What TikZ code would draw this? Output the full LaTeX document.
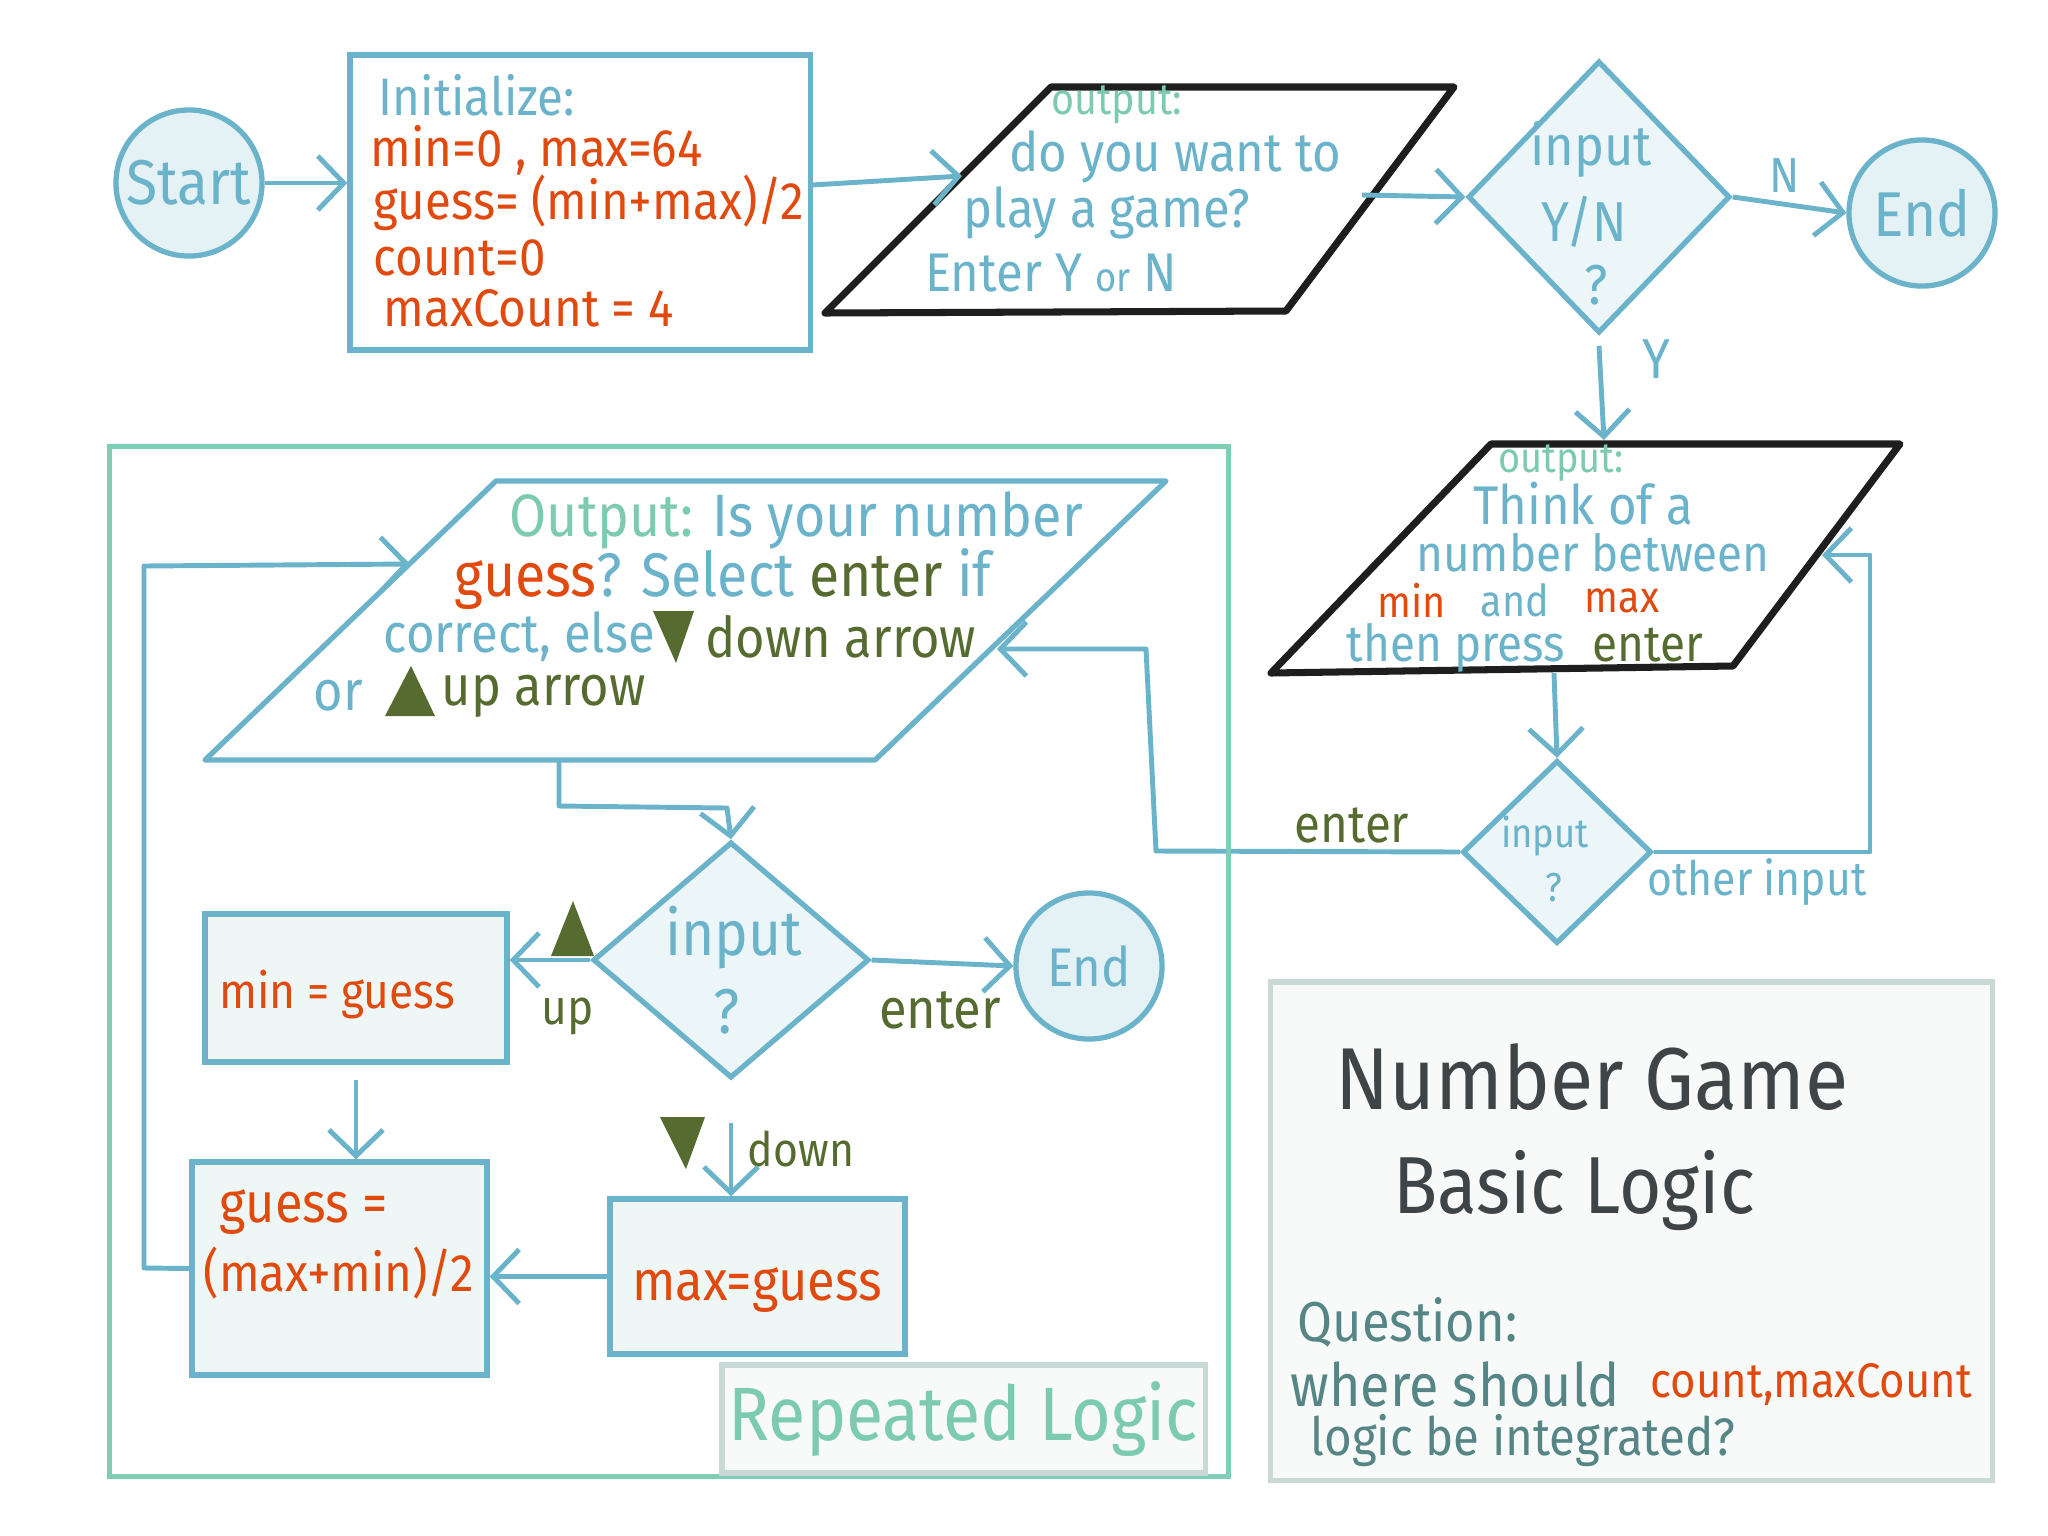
\documentclass[tikz,border=0pt]{standalone}
\usepackage{fontspec}
\setmainfont{Fira Sans}[FakeStretch=0.9]
\usetikzlibrary{arrows.meta,shapes.geometric,calc}
\definecolor{cblue}{HTML}{6AB3CA}
\definecolor{corange}{HTML}{E04A0E}
\definecolor{cmint}{HTML}{7CCBB0}
\definecolor{colive}{HTML}{556B2F}
\definecolor{cblack}{HTML}{1E1E1E}
\definecolor{cframe}{HTML}{7FCDB5}
\definecolor{cgrayb}{HTML}{C9D9D5}
\definecolor{cgrayf}{HTML}{F8FAFA}
\definecolor{cdark}{HTML}{3F4547}
\definecolor{cteal}{HTML}{558585}
\definecolor{ccirc}{HTML}{E4F1F5}
\definecolor{cdia}{HTML}{ECF6F8}
\definecolor{cbox}{HTML}{EEF7F5}
\newcommand\fsz[1]{\fontsize{#1pt}{#1pt}\selectfont}
\tikzset{
  x=0.01cm, y=-0.01cm,
  circ/.style={circle, draw=cblue, fill=ccirc, line width=1.5pt, minimum size=1.46cm, inner sep=0pt, text=cblue},
  dia/.style={diamond, draw=cblue, fill=cdia, line width=1.5pt, inner sep=0pt},
  rect/.style={rectangle, draw=cblue, line width=1.5pt, inner sep=0pt},
  gbox/.style={rectangle, draw=cblue, fill=cbox, line width=1.5pt, inner sep=0pt},
  graybox/.style={rectangle, draw=cgrayb, fill=cgrayf, line width=1.5pt, inner sep=0pt},
  para/.style={draw=cblack, fill=white, line width=2pt, line join=round},
  arr/.style={draw=cblue, line width=1.4pt, line join=round, -{Straight Barb[length=2.6mm,width=5.4mm]}},
  tx/.style={inner sep=0pt},
}
\begin{document}
\begin{tikzpicture}
\useasboundingbox (0,0) rectangle (2048,1536);
\fill[white] (0,0) rectangle (2048,1536);

% ---------- top row ----------
\node[circ, font=\fsz{18}] (start) at (189,183) {Start};
\node[rect, minimum width=4.6cm, minimum height=2.95cm] (init) at (580,202.5) {};
\node[tx, text=cblue, font=\fsz{15}] (tinit) at (477,95) {Initialize:};
\node[tx, anchor=west, text=corange, font=\fsz{15}] (tmin) at (370,150) {min=0 , max=64};
\node[tx, anchor=west, text=corange, font=\fsz{15}] (tguess) at (373,203) {guess= (min+max)/2};
\node[tx, anchor=west, text=corange, font=\fsz{15}] (tcount) at (373,258) {count=0};
\node[tx, anchor=west, text=corange, font=\fsz{15}] (tmaxc) at (383,308) {maxCount = 4};

\coordinate (p1a) at (1051,87);
\coordinate (p1b) at (1454,87);
\coordinate (p1c) at (1286,311);
\coordinate (p1d) at (825,313);
\draw[para] (p1a) -- (p1b) -- (p1c) -- (p1d) -- cycle;
\node[tx, text=cmint, font=\fsz{12.5}] (p1t0) at (1117,105) {output:};
\node[tx, text=cblue, font=\fsz{15.5}] (p1t1) at (1175,157) {do you want to};
\node[tx, text=cblue, font=\fsz{15.5}] (p1t2) at (1107,213) {play a game?};
\node[tx, text=cblue, font=\fsz{15.5}] (p1t3) at (1051,273) {Enter Y {\fsz{11.5}or} N};

\node[dia, minimum width=2.62cm, minimum height=2.72cm] (dia1) at (1599,197) {};
\node[tx, text=cblue, font=\fsz{16}] (d1t1) at (1591,150) {input};
\node[tx, text=cblue, font=\fsz{16}] (d1t2) at (1584,222) {Y/N};
\node[tx, text=cblue, font=\fsz{16}] (d1t3) at (1596,285) {?};

\node[circ, font=\fsz{18}] (end1) at (1922,213) {End};
\node[tx, text=cblue, font=\fsz{14}] (lN) at (1785,176) {N};
\node[tx, text=cblue, font=\fsz{16}] (lY) at (1656,359) {Y};

\coordinate (i1out) at (812,185);
\coordinate (p1in) at (962,176);
\coordinate (p1out) at (1362,195);
\coordinate (p2in) at (1604,440);
\draw[arr] (start.east) -- (start.east -| init.west);
\draw[arr] (i1out) -- (p1in);
\draw[arr] (p1out) -- (dia1.west);
\draw[arr] (dia1.east) -- (end1.west);
\draw[arr] ([yshift=-0.1cm]dia1.south) -- (p2in);

% ---------- right column ----------
\coordinate (p2a) at (1491,444);
\coordinate (p2b) at (1900,444);
\coordinate (p2c) at (1733,666);
\coordinate (p2d) at (1271,673);
\draw[para] (p2a) -- (p2b) -- (p2c) -- (p2d) -- cycle;
\node[tx, text=cmint, font=\fsz{12}] (p2t0) at (1561,463) {output:};
\node[tx, text=cblue, font=\fsz{15.5}] (p2t1) at (1583,504) {Think of a};
\node[tx, text=cblue, font=\fsz{14.5}] (p2t2) at (1593,553) {number between};
\node[tx, text=corange, font=\fsz{12.5}] (p2t3) at (1412,600) {min};
\node[tx, text=cblue, font=\fsz{12.5}] (p2t4) at (1515,600) {and};
\node[tx, text=corange, font=\fsz{12.5}] (p2t5) at (1622,601) {max};
\node[tx, text=cblue, font=\fsz{14.5}] (p2t6) at (1456,648) {then press};
\node[tx, text=colive, font=\fsz{14.5}] (p2t7) at (1648,645) {enter};

\node[dia, minimum width=1.89cm, minimum height=1.83cm] (dia2) at (1557,852) {};
\node[tx, text=cblue, font=\fsz{11.5}] (d2t1) at (1545,836) {input};
\node[tx, text=cblue, font=\fsz{11.5}] (d2t2) at (1554,888) {?};
\node[tx, text=cblue, font=\fsz{13.5}] (lother) at (1757,882) {other input};
\node[tx, text=colive, font=\fsz{15}] (lenter1) at (1352,825) {enter};

\coordinate (p2out) at (1554,673);
\coordinate (p2r) at (1822,555);
\coordinate (oc1) at (1870,852);
\coordinate (oc2) at (1870,555);
\coordinate (ec1) at (1156,851);
\coordinate (ec2) at (1146,649);
\coordinate (p3r) at (997,649);
\draw[arr] (p2out) -- (dia2.north);
\draw[arr] (dia2.east) -- (oc1) -- (oc2) -- (p2r);
\draw[arr] (dia2.west) -- (ec1) -- (ec2) -- (p3r);

% ---------- repeated logic frame ----------
\node[draw=cframe, line width=1.4pt, minimum width=11.18cm, minimum height=10.29cm, inner sep=0pt] (frame) at (669,961.5) {};

\coordinate (p3a) at (496,481);
\coordinate (p3b) at (1166,481);
\coordinate (p3c) at (875,760);
\coordinate (p3d) at (205,760);
\draw[para, draw=cblue, line width=1.5pt] (p3a) -- (p3b) -- (p3c) -- (p3d) -- cycle;
\node[tx, anchor=west, font=\fsz{17}] (p3t1) at (509,520) {\textcolor{cmint}{Output:} \textcolor{cblue}{Is your number}};
\node[tx, anchor=west, font=\fsz{17.5}] (p3t2) at (454,579) {\textcolor{corange}{guess}\textcolor{cblue}{? Select} \textcolor{colive}{enter} \textcolor{cblue}{if}};
\node[tx, anchor=west, text=cblue, font=\fsz{15.5}] (p3t3) at (383,637) {correct, else};
\fill[colive] (653,611) -- (694,611) -- (676,663) -- cycle;
\node[tx, anchor=west, text=colive, font=\fsz{16}] (p3t4) at (705,637) {down arrow};
\node[tx, anchor=west, text=cblue, font=\fsz{16}] (p3t5) at (313,696) {or};
\fill[colive] (411,666) -- (435,716) -- (385,716) -- cycle;
\node[tx, anchor=west, text=colive, font=\fsz{16}] (p3t6) at (441,696) {up arrow};

\node[dia, minimum width=2.76cm, minimum height=2.36cm] (dia3) at (731,960) {};
\node[tx, text=cblue, font=\fsz{18}] (d3t1) at (734,938) {input};
\node[tx, text=cblue, font=\fsz{18}] (d3t2) at (727,1012) {?};

\node[gbox, minimum width=3.02cm, minimum height=1.48cm] (minb) at (356,988) {};
\node[tx, text=corange, font=\fsz{14}] (tminb) at (337,995) {min = guess};
\fill[colive] (573,901) -- (594,956) -- (551,956) -- cycle;
\node[tx, text=colive, font=\fsz{14}] (lup) at (568,1016) {up};

\node[circ, font=\fsz{15.5}] (end2) at (1089,966) {End};
\node[tx, text=colive, font=\fsz{16}] (lenter2) at (940,1010) {enter};

\fill[colive] (660,1117) -- (705,1117) -- (686,1169) -- cycle;
\node[tx, text=colive, font=\fsz{13.5}] (ldown) at (801,1149) {down};

\node[gbox, minimum width=2.95cm, minimum height=1.55cm] (maxb) at (757.5,1276.5) {};
\node[tx, text=corange, font=\fsz{16}] (tmaxb) at (757,1290) {max=guess};

\node[gbox, minimum width=2.95cm, minimum height=2.13cm] (guessb) at (339.5,1268.5) {};
\node[tx, anchor=west, text=corange, font=\fsz{16}] (tg1) at (219,1212) {guess =};
\node[tx, anchor=west, text=corange, font=\fsz{15}] (tg2) at (203,1273) {(max+min)/2};

\node[graybox, minimum width=4.83cm, minimum height=1.08cm, text=cmint, font=\fsz{21.5}] (rep) at (963.5,1419) {Repeated Logic};

\coordinate (p3out) at (559,760);
\coordinate (pc1) at (559,806);
\coordinate (pc2) at (727,808);
\coordinate (lc1) at (144,1268);
\coordinate (lc2) at (144,566);
\coordinate (p3l) at (410,564);
\draw[arr] (p3out) -- (pc1) -- (pc2) -- (dia3.north);
\draw[arr] (dia3.west) -- (dia3.west -| minb.east);
\draw[arr] (dia3.east) -- (end2.west);
\draw[arr] ([yshift=-0.42cm]dia3.south) -- (dia3.south |- maxb.north);
\draw[arr] ([yshift=-0.15cm]minb.south) -- (minb.south |- guessb.north);
\draw[arr] (maxb.west) -- (maxb.west -| guessb.east);
\draw[arr] (guessb.west) -- (lc1) -- (lc2) -- (p3l);

% ---------- title box ----------
\node[graybox, minimum width=7.21cm, minimum height=4.98cm] (ngbox) at (1631.5,1231) {};
\node[tx, text=cdark, font=\fsz{25}] (ng1) at (1592,1077) {Number Game};
\node[tx, text=cdark, font=\fsz{23}] (ng2) at (1574,1191) {Basic Logic};
\node[tx, anchor=west, text=cteal, font=\fsz{16}] (ng3) at (1297,1322) {Question:};
\node[tx, anchor=west, text=cteal, font=\fsz{17}] (ng4) at (1290,1384) {where should};
\node[tx, anchor=west, text=corange, font=\fsz{13.8}] (ng5) at (1650,1384) {count,maxCount};
\node[tx, anchor=west, text=cteal, font=\fsz{15}] (ng6) at (1310,1441) {logic be integrated?};
\end{tikzpicture}
\end{document}
